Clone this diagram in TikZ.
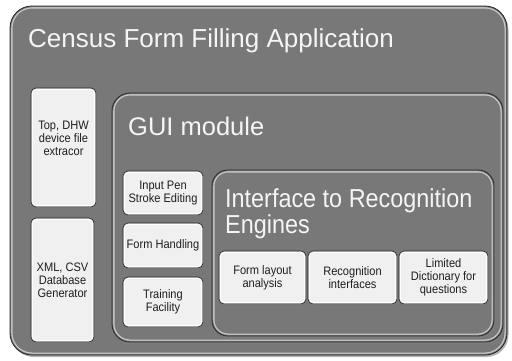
\documentclass[tikz,border=0pt]{standalone}
\usepackage{fontspec}
\setmainfont{Liberation Sans}
\newfontfamily\narrowfont[FakeStretch=0.9]{Liberation Sans}
\usepackage{tikz}
\usetikzlibrary{shadows, positioning}

\definecolor{panelgray}{RGB}{120,120,120}
\definecolor{rimlight}{RGB}{200,200,200}
\definecolor{boxfill}{RGB}{240,240,240}
\definecolor{inktext}{RGB}{30,30,30}

\begin{document}
\begin{tikzpicture}[
        x=1pt, y=-1pt,
        % panel = grey rounded container, bevel rim inside
        panel/.style={
            draw=black!85, line width=0.8pt, fill=panelgray,
            rounded corners=#1, outer sep=0pt, inner sep=0pt, anchor=north west,
            drop shadow={shadow xshift=1.5pt, shadow yshift=-2pt, opacity=0.6},
            path picture={
                \draw[line width=5pt, rimlight, rounded corners=#1]
                    (path picture bounding box.south west) rectangle (path picture bounding box.north east);
                \draw[line width=2.4pt, panelgray, rounded corners=#1]
                    (path picture bounding box.south west) rectangle (path picture bounding box.north east);
            }
        },
        % leaf = light box with the text
        leaf/.style={
            draw=black!85, line width=0.7pt, fill=boxfill,
            rounded corners=5pt, outer sep=0pt, inner sep=1pt,
            align=center, text=inktext,
            font=\narrowfont\fontsize{12.3}{13}\selectfont,
            drop shadow={shadow xshift=1pt, shadow yshift=-1.2pt, opacity=0.5},
            path picture={
                \draw[line width=3.6pt, white, rounded corners=5pt]
                    (path picture bounding box.south west) rectangle (path picture bounding box.north east);
                \draw[line width=1.6pt, boxfill!85!gray, rounded corners=5pt]
                    (path picture bounding box.south west) rectangle (path picture bounding box.north east);
            }
        },
        heading/.style={text=white!96!black, inner sep=0pt, anchor=base west, align=left}
    ]
    \useasboundingbox (0,0) rectangle (512,360);

    % 1. containers
    \node (app) [panel=22pt, minimum width=497pt, minimum height=349pt] at (10,6) {};
    \node (gui) [panel=18pt, minimum width=391pt, minimum height=249pt] at (112,93) {};
    \node (iface) [panel=16pt, minimum width=282pt, minimum height=166pt] at (212,170) {};

    % headings (base = last line)
    \node (apptitle) [heading, font=\fontsize{26}{30}\selectfont] at (28,47) {Census Form Filling Application};
    \node (guititle) [heading, font=\fontsize{25.5}{30}\selectfont] at (128,135) {GUI module};
    \node (ifacetitle) [heading, font=\narrowfont\fontsize{26}{26}\selectfont] at (225,233) {Interface to Recognition\\Engines};

    % 2. left column
    \node (extractor) [leaf, anchor=north west, minimum width=65pt, minimum height=119pt] at (31,88) {Top, DHW\\device file\\extracor\\[6pt]};
    \node (dbgen) [leaf, anchor=north west, minimum width=63pt, minimum height=124pt] at (31,218) {XML, CSV\\Database\\Generator};

    % 3. GUI column
    \node (penedit) [leaf, anchor=north west, minimum width=80pt, minimum height=44pt] at (123,171) {Input Pen\\Stroke Editing};
    \node (formhandling) [leaf, below=8pt of penedit, minimum width=80pt, minimum height=45pt] {Form Handling};
    \node (training) [leaf, below=9pt of formhandling, minimum width=80pt, minimum height=50pt] {Training\\Facility};

    % 4. recognition engines row
    \node (layout) [leaf, anchor=north west, minimum width=87pt, minimum height=53pt] at (219,251) {Form layout\\analysis};
    \node (recog) [leaf, right=2pt of layout, minimum width=89pt, minimum height=53pt] {Recognition\\interfaces};
    \node (dict) [leaf, right=2pt of recog, minimum width=89pt, minimum height=53pt] {Limited\\Dictionary for\\questions};

\end{tikzpicture}
\end{document}
